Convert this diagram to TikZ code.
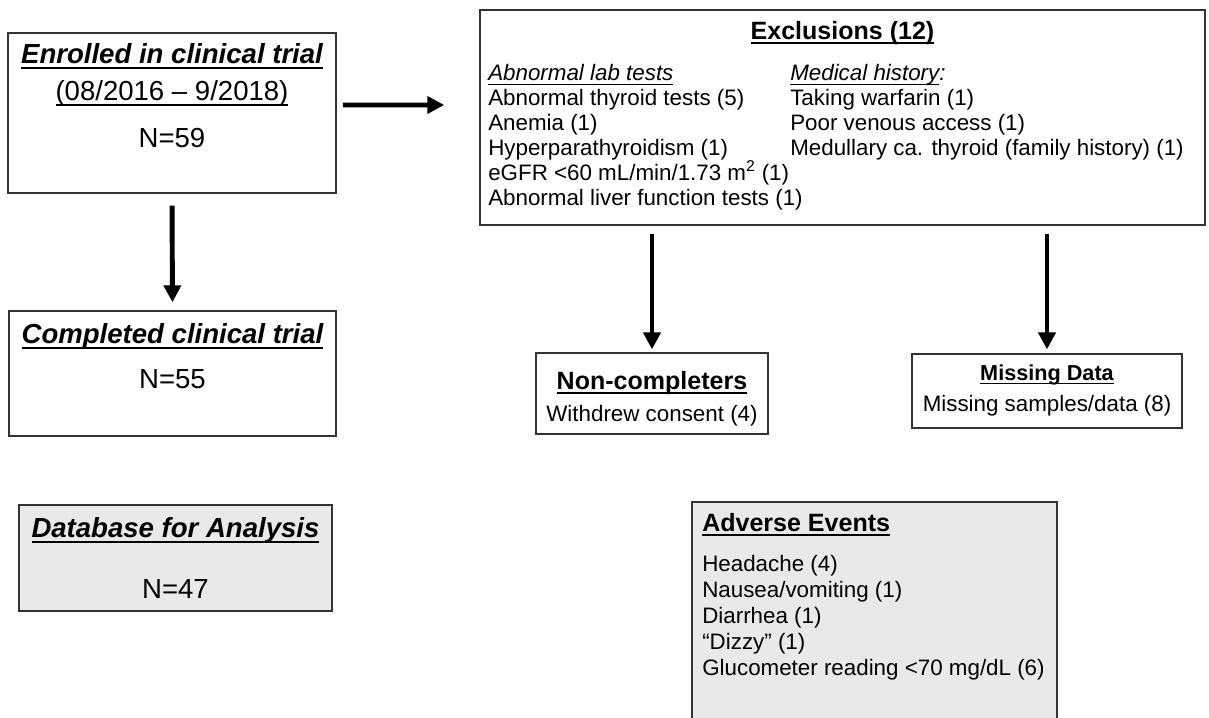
\documentclass[tikz,border=0pt]{standalone}
\usepackage{fontspec}
\setmainfont{Liberation Sans}
\usetikzlibrary{arrows.meta, positioning, calc}

% underline macro
\newsavebox\ulbox
\newcommand\ulthick{1pt}
\newcommand{\ulined}[1]{\sbox\ulbox{#1}\rlap{\rule[-0.2em]{\wd\ulbox}{\ulthick}}\usebox\ulbox}

\begin{document}
\begin{tikzpicture}[x=0.025cm, y=-0.025cm, >={Triangle[length=12pt, width=12pt]}]
	
	% Define styles
	\tikzstyle{box} = [rectangle, draw=black!80, line width=1pt, inner sep=0pt]
	\tikzstyle{shaded} = [box, fill=gray!17]
	\tikzstyle{flow} = [->, line width=3.5pt]
	\tikzstyle{bigtext} = [font=\def\ulthick{1.4pt}\fontsize{19.6}{23}\selectfont, anchor=base, inner sep=0pt]
	\tikzstyle{headtext} = [font=\def\ulthick{1.4pt}\bfseries\fontsize{17.8}{21}\selectfont, anchor=base, inner sep=0pt]
	\tikzstyle{smallhead} = [font=\def\ulthick{1.2pt}\bfseries\fontsize{15.4}{18}\selectfont, anchor=base, inner sep=0pt]
	\tikzstyle{bodytext} = [font=\fontsize{15.9}{17.8}\selectfont, anchor=base, inner sep=0pt]
	\tikzstyle{listtext} = [font=\def\ulthick{0.8pt}\fontsize{15.9}{17.8}\selectfont, anchor=north west, align=left, inner sep=0pt]
	
	\path[use as bounding box] (0,0) rectangle (1209,717);
	\clip (0,0) rectangle (1209,717);
	
	% Boxes
	\node[box, minimum width=8.2cm, minimum height=4cm] (enrolled) at (172,113) {};
	\node[box, minimum width=8.175cm, minimum height=3.125cm] (completed) at (172.5,373.5) {};
	\node[shaded, minimum width=7.825cm, minimum height=2.65cm] (database) at (175.5,558) {};
	\node[box, minimum width=18.125cm, minimum height=5.375cm] (excl) at (842.5,117.5) {};
	\node[box, minimum width=5.8cm, minimum height=2.025cm] (noncomp) at (652,393.5) {};
	\node[box, minimum width=6.75cm, minimum height=1.85cm] (missing) at (1047,391) {};
	\node[shaded, minimum width=9.125cm, minimum height=5.9cm] (adverse) at (874.5,620) {};
	
	% Texts
	\node[bigtext] (enrolledTitle) at (172,63) {\textbf{\textit{\ulined{Enrolled in clinical trial}}}};
	\node[bigtext] (enrolledDates) at (172,100) {\def\ulthick{1pt}\ulined{(08/2016 -- 9/2018)}};
	\node[bigtext] (enrolledN) at (172,147) {N=59};
	
	\node[bigtext] (completedTitle) at (172.5,343) {\textbf{\textit{\ulined{Completed clinical trial}}}};
	\node[bigtext] (completedN) at (172.5,388) {N=55};
	
	\node[bigtext] (databaseTitle) at (175.5,537) {\textbf{\textit{\ulined{Database for Analysis}}}};
	\node[bigtext] (databaseN) at (175.5,598) {N=47};
	
	\node[headtext] (exclTitle) at (842.5,39) {\ulined{Exclusions (12)}};
	\node[listtext] (labTests) at (488,62.5) {\strut\textit{\ulined{Abnormal lab tests}}\\
		Abnormal thyroid tests (5)\\
		Anemia (1)\\
		Hyperparathyroidism (1)\\
		eGFR <60 mL/min/1.73 m\textsuperscript{2} (1)\\
		Abnormal liver function tests (1)};
	\node[listtext] (history) at (790,62.5) {\strut\textit{\ulined{Medical history}:}\\
		Taking warfarin (1)\\
		Poor venous access (1)\\
		Medullary ca. thyroid (family history) (1)};
	
	\node[headtext] (noncompTitle) at (652,389) {\ulined{Non-completers}};
	\node[bodytext] (noncompText) at (652,421) {Withdrew consent (4)};
	
	\node[smallhead] (missingTitle) at (1047,380) {\ulined{Missing Data}};
	\node[bodytext] (missingText) at (1047,411) {Missing samples/data (8)};
	
	\node[headtext, anchor=base west] (adverseTitle) at (702,531) {\ulined{Adverse Events}};
	\node[listtext, font=\fontsize{15.9}{18.5}\selectfont] (adverseList) at (702,553) {\strut Headache (4)\\
		Nausea/vomiting (1)\\
		Diarrhea (1)\\
		“Dizzy” (1)\\
		Glucometer reading <70 mg/dL (6)};
	
	% Arrows
	\draw[flow, shorten <=8.5pt, shorten >=5.7pt] (enrolled.south) -- (completed.north);
	\draw[flow, shorten <=4.3pt, shorten >=24.9pt] ([yshift=5.7pt]enrolled.east) -- ([yshift=8.9pt]excl.west);
	\draw[flow, shorten <=5.7pt, shorten >=2.1pt] (noncomp.north |- excl.south) -- (noncomp.north);
	\draw[flow, shorten <=5.7pt, shorten >=2.8pt] (missing.north |- excl.south) -- (missing.north);
	
\end{tikzpicture}
\end{document}
